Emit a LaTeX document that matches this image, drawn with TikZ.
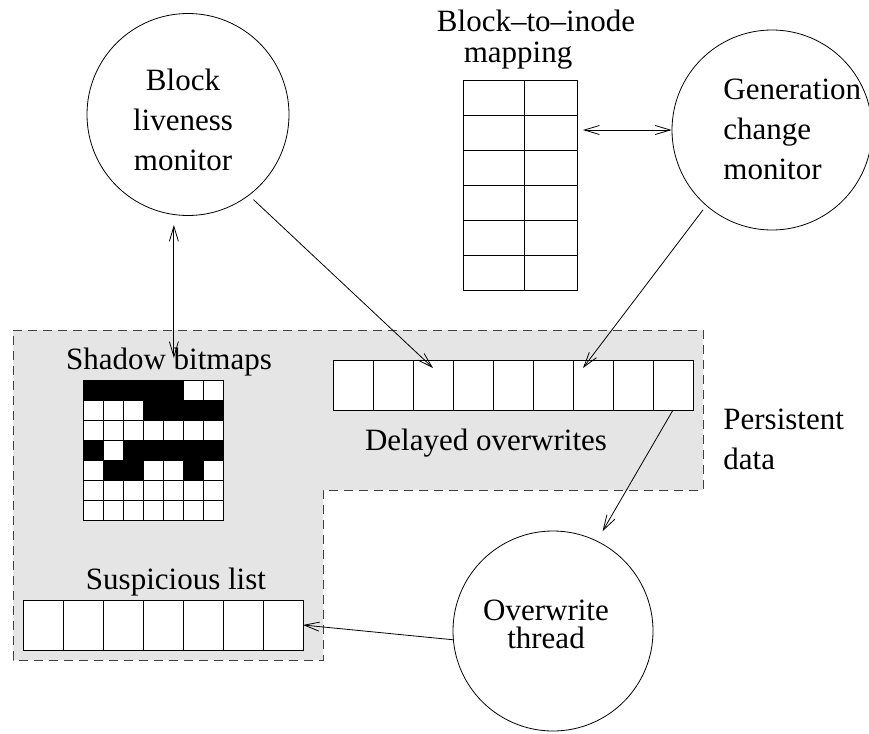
\documentclass[tikz,border=0pt]{standalone}
\usepackage{fontspec}
\setmainfont{Liberation Serif}
\usetikzlibrary{positioning}
\usetikzlibrary{calc}
\usetikzlibrary{arrows.meta}

\definecolor{persistgray}{gray}{0.9}

\begin{document}
\begin{tikzpicture}[x=1pt, y=-1pt, line width=0.8pt, >={Straight Barb[length=15pt,width=9pt]},
	bubble/.style={circle, draw, inner sep=0pt},
	txt/.style={inner sep=0pt, font=\fontsize{31}{40}\selectfont},
	cell/.style={rectangle, draw, fill=white, minimum width=40pt, minimum height=50pt, inner sep=0pt, outer sep=0pt},
	mcell/.style={rectangle, draw, fill=white, minimum height=35pt, inner sep=0pt, outer sep=0pt},
	bit0/.style={rectangle, draw, fill=white, minimum size=20pt, inner sep=0pt, outer sep=0pt},
	bit1/.style={bit0, fill=black}]
		\useasboundingbox (0,0) rectangle (869,733);
		% persistent data area
		\draw[fill=persistgray, draw=black!75, dash pattern=on 9pt off 6pt] (13,330) -- (703,330) -- (703,490) -- (323,490) -- (323,660) -- (13,660) -- cycle;
		\node[txt, align=left, anchor=west] (persist) at (723,439.5) {Persistent\\data};

		\node[bubble, minimum size=202pt] (live) at (188,114.5) {};
		\node[txt, align=center] (livetxt) at (183,119.5) {Block\\liveness\\monitor};
		\node[bubble, minimum size=200pt] (gen) at (772,130) {};
		\node[txt, align=left, anchor=west] (gentxt) at (723,129.5) {Generation\\change\\monitor};
		\node[bubble, minimum size=200pt] (ow) at (553,631) {};
		\node[txt, align=center, font=\fontsize{31}{28}\selectfont] (owtxt) at (546,624.5) {Overwrite\\thread};

		% block-to-inode table
		\node[txt, anchor=base] (maptitle) at (536,32) {Block--to--inode};
		\node[txt, anchor=base] (mapsub) at (518,63) {mapping};
		\foreach \r in {1,...,6} {
			\node[mcell, minimum width=61pt] (m\r-l) at (493.5,62.5+35*\r) {};
			\node[mcell, minimum width=53pt, right=0pt of m\r-l] (m\r-r) {};
		}

		% shadow bitmaps
		\node[txt, anchor=base] (sbt) at (169,369) {Shadow bitmaps};
		\foreach \row [count=\r] in {{1,1,1,1,1,0,0},{0,0,0,1,1,1,1},{0,0,0,0,0,0,0},{1,0,1,1,1,1,1},{0,1,1,0,0,1,0},{0,0,0,0,0,0,0},{0,0,0,0,0,0,0}}
			\foreach \b [count=\c] in \row
				\node[bit\b] (b\r-\c) at (73+20*\c,370+20*\r) {};

		% delayed overwrites
		\node[cell] (d1) at (353,385) {};
		\foreach \i [count=\j from 2] in {1,...,8}
			\node[cell, right=0pt of d\i] (d\j) {};
		\node[txt, anchor=base] (dlabel) at (486,450) {Delayed overwrites};

		% suspicious list
		\node[cell] (s1) at (43,625) {};
		\foreach \i [count=\j from 2] in {1,...,6}
			\node[cell, right=0pt of s\i] (s\j) {};
		\node[txt, anchor=base] (slabel) at (176,589) {Suspicious list};

		\coordinate (sbtip) at ($(sbt.base)+(0,-11)$);
		\draw[<->, shorten <=10pt] (live.262) -- (live.262 |- sbtip);
		\draw[->, shorten <=6pt] (live.-53) -- ($(d3.north)+(0,8)$);
		\draw[->, shorten <=5pt] (gen.229) -- ($(d7.north)+(-10,8)$);
		\draw[<->, shorten <=6pt] (m2-r.east |- gen.west) -- (gen.west);
		\draw[->, shorten >=11pt] (d9.south) -- (ow.64);
		\draw[->] (ow.185) -- (s7.east);
	\end{tikzpicture}
\end{document}
